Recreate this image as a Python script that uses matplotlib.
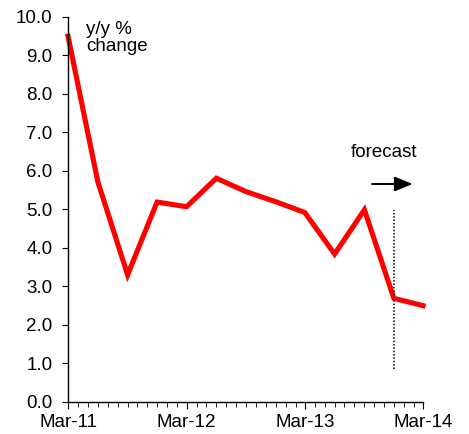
import matplotlib
matplotlib.use("Agg")
import matplotlib.pyplot as plt
import matplotlib.dates as mdates
import pandas as pd

# quarterly y/y % change, last two quarters are forecast
quarters = ['2011-03-01', '2011-06-01', '2011-09-01', '2011-12-01',
            '2012-03-01', '2012-06-01', '2012-09-01', '2012-12-01',
            '2013-03-01', '2013-06-01', '2013-09-01', '2013-12-01',
            '2014-03-01']
values = [9.5, 5.72, 3.3, 5.19, 5.07, 5.81, 5.46, 5.2, 4.92, 3.84, 4.99, 2.69, 2.5]
forecast_start = '2013-12-01'
tick_labels = ['Mar-11', 'Mar-12', 'Mar-13', 'Mar-14']

plt.rcParams['font.family'] = ['Liberation Sans', 'DejaVu Sans']

dates = pd.to_datetime(quarters)
fc = pd.Timestamp(forecast_start)

fig = plt.figure(figsize=(4.69, 4.34), dpi=100)
ax = fig.add_axes([0.145, 0.074, 0.757, 0.887])

ax.plot(dates, values, color='#ff0000', linewidth=3.7, clip_on=False, solid_joinstyle='miter')

# forecast divider and arrow
ax.plot([fc, fc], [0.86, 4.99], color='black', linestyle=(0, (1, 1.2)), linewidth=1.1)
ax.annotate('', xy=(pd.Timestamp('2014-01-28'), 5.66), xytext=(pd.Timestamp('2013-09-25'), 5.66),
            arrowprops=dict(arrowstyle='-|>,head_length=1.1,head_width=0.45', color='black', lw=1.4,
                            shrinkA=0, shrinkB=0))
ax.text(pd.Timestamp('2013-11-01'), 6.47, 'forecast', fontsize=13.5, ha='center', va='center')

ax.text(0.052, 0.99, 'y/y %\nchange', transform=ax.transAxes, fontsize=13.5,
        ha='left', va='top', linespacing=1.0)

ax.set_ylim(0, 10)
ax.set_yticks([i * 1.0 for i in range(11)])
ax.yaxis.set_major_formatter(plt.FormatStrFormatter('%.1f'))
ax.set_xlim(dates[0], dates[-1])
ax.xaxis.set_major_locator(mdates.MonthLocator(bymonth=3))
ax.xaxis.set_minor_locator(mdates.MonthLocator())
ax.set_xticklabels(tick_labels)

for s in ['top', 'right']:
    ax.spines[s].set_visible(False)
for s in ['left', 'bottom']:
    ax.spines[s].set_linewidth(1.0)

ax.tick_params(axis='y', which='major', length=4, width=0.8, labelsize=13.5, pad=7)
ax.tick_params(axis='x', which='major', length=5, width=0.8, labelsize=13.5, pad=4)
ax.tick_params(axis='x', which='minor', length=3.5, width=0.6)

plt.savefig('out.png', dpi=100)
